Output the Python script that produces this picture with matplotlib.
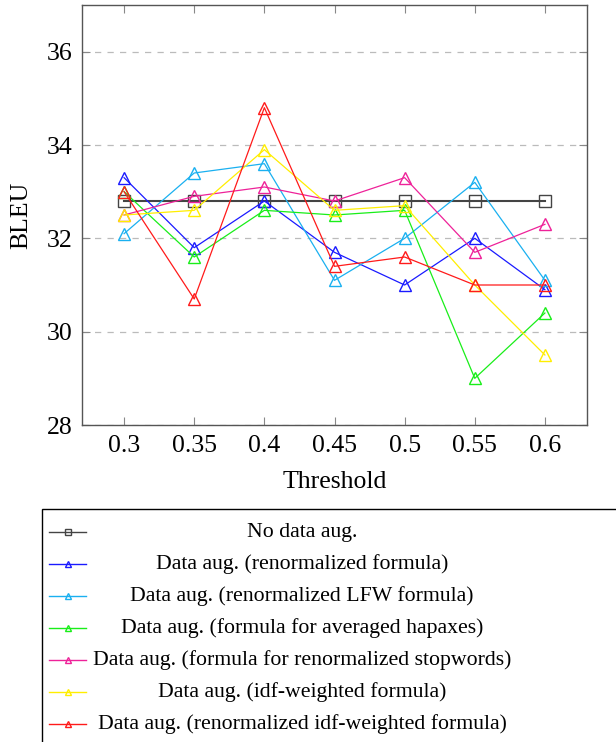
import matplotlib
matplotlib.use('Agg')
import matplotlib.pyplot as plt
from matplotlib.lines import Line2D
from matplotlib.patches import Rectangle

plt.rcParams['font.family'] = ['Liberation Serif', 'DejaVu Serif']
plt.rcParams['mathtext.fontset'] = 'stix'

thresholds = [0.3, 0.35, 0.4, 0.45, 0.5, 0.55, 0.6]
tick_labels = ['0.3', '0.35', '0.4', '0.45', '0.5', '0.55', '0.6']

no_aug = [32.8, 32.8, 32.8, 32.8, 32.8, 32.8, 32.8]
renorm = [33.3, 31.8, 32.8, 31.7, 31.0, 32.0, 30.9]
renorm_lfw = [32.1, 33.4, 33.6, 31.1, 32.0, 33.2, 31.1]
hapaxes = [33.0, 31.6, 32.6, 32.5, 32.6, 29.0, 30.4]
stopwords = [32.5, 32.9, 33.1, 32.8, 33.3, 31.7, 32.3]
idf = [32.5, 32.6, 33.9, 32.6, 32.7, 31.0, 29.5]
renorm_idf = [33.0, 30.7, 34.8, 31.4, 31.6, 31.0, 31.0]

labels = ['No data aug.',
          'Data aug. (renormalized formula)',
          'Data aug. (renormalized LFW formula)',
          'Data aug. (formula for averaged hapaxes)',
          'Data aug. (formula for renormalized stopwords)',
          'Data aug. (idf-weighted formula)',
          'Data aug. (renormalized idf-weighted formula)']
colors = ['#444444', '#1a1aff', '#1ab0f0', '#19ee19', '#ee2299', '#ffee00', '#ff1a1a']
markers = ['s', '^', '^', '^', '^', '^', '^']
series = [no_aug, renorm, renorm_lfw, hapaxes, stopwords, idf, renorm_idf]

fig = plt.figure(figsize=(6.16, 7.42), dpi=100)
ax = fig.add_axes([82 / 616, 1 - 425 / 742, 505 / 616, 420 / 742])

for ys, c, m, lab in zip(series, colors, markers, labels):
    lw = 1.5 if m == 's' else 0.9
    ax.plot(thresholds, ys, color=c, marker=m, markersize=8,
            markerfacecolor='none', markeredgewidth=1.0, linewidth=lw, label=lab)

ax.set_xlim(0.27, 0.63)
ax.set_ylim(28, 37)
ax.set_xticks(thresholds)
ax.set_xticklabels(tick_labels)
ax.set_yticks([28, 30, 32, 34, 36])
ax.yaxis.grid(True, linestyle=(0, (5, 5)), color='#bbbbbb', linewidth=0.9)
ax.set_axisbelow(True)
ax.tick_params(direction='in', length=6, color='#888888', top=True, right=True,
               labelsize=18.5, pad=7)
for s in ax.spines.values():
    s.set_color('#555555')
    s.set_linewidth(1.0)
ax.set_xlabel('Threshold', fontsize=18.5, labelpad=10)
ax.set_ylabel('BLEU', fontsize=18.5, labelpad=10)

# legend box drawn by hand so the labels can be centred like pgfplots
fig.add_artist(Rectangle((42 / 616, -0.1), 1.0, 1 - 509 / 742 + 0.1,
                         transform=fig.transFigure, fill=False,
                         edgecolor='black', linewidth=1.0, clip_on=False))
row_y = [532, 564, 596, 628, 660, 692, 724]
for y, c, m, lab in zip(row_y, colors, markers, labels):
    yf = 1 - y / 742
    fig.add_artist(Line2D([49 / 616, 86 / 616], [yf, yf], transform=fig.transFigure,
                          color=c, linewidth=1.0))
    fig.add_artist(Line2D([68 / 616], [yf], transform=fig.transFigure, color=c,
                          marker=m, markersize=5, markerfacecolor='none',
                          markeredgewidth=1.0, linestyle='none'))
    fig.text(302 / 616, yf, lab, ha='center', va='center', fontsize=15.7)

fig.savefig('out.png', dpi=100)
